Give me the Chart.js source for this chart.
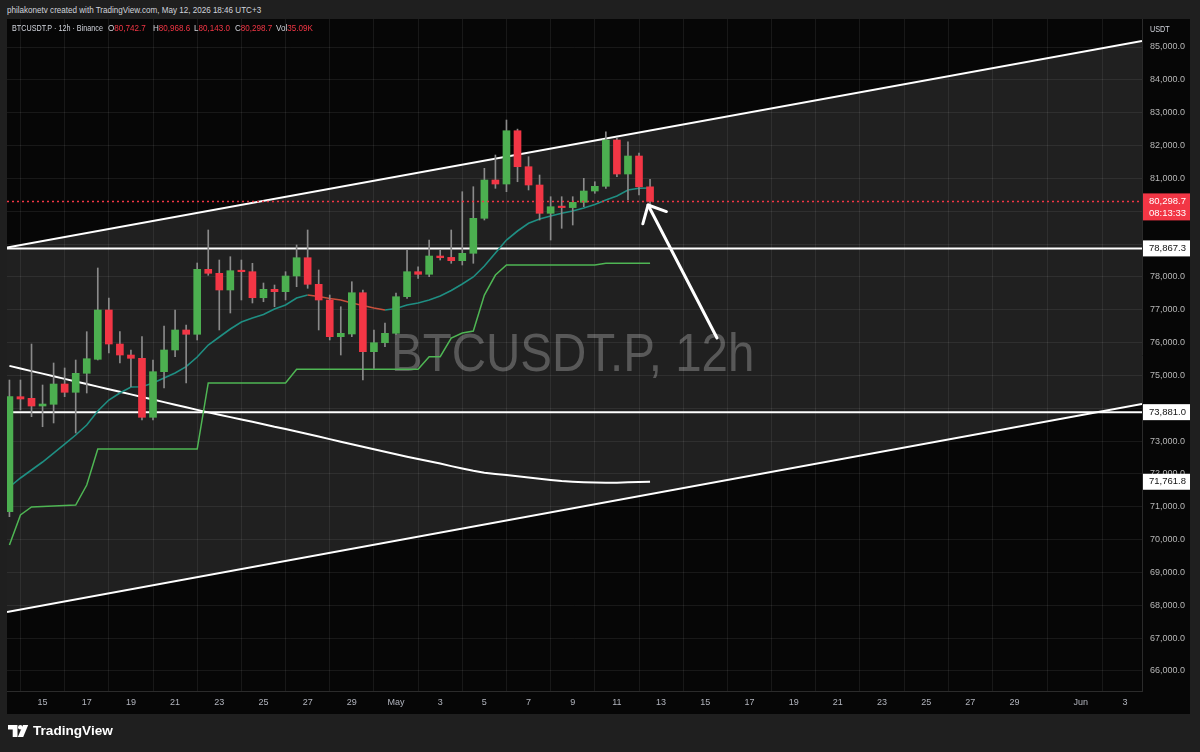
<!DOCTYPE html>
<html><head><meta charset="utf-8">
<script src="https://cdn.jsdelivr.net/npm/chart.js@4.4.1/dist/chart.umd.min.js"></script>
<style>
html,body{margin:0;padding:0;background:#1f1f1f;width:1200px;height:752px;overflow:hidden;font-family:'Liberation Sans',Arial,sans-serif;}
#panel{position:absolute;left:7px;top:19px;width:1183px;height:695px;background:#060606;overflow:hidden;}
#wm{position:absolute;left:384px;top:312px;font-size:47.5px;line-height:47px;color:#454545;white-space:nowrap;transform:scaleY(1.13);transform-origin:0 41px;}
#c{position:absolute;left:0;top:0;}
.t{position:absolute;white-space:nowrap;font-size:9.5px;line-height:10px;color:#d1d4dc;transform:scaleX(0.85);transform-origin:0 50%;}
.r{color:#f23645;}
#foot{position:absolute;left:33px;top:723px;font-size:13.6px;line-height:16px;font-weight:bold;color:#ffffff;}
</style></head><body>
<div class="t" style="left:7px;top:5px;">philakonetv created with TradingView.com, May 12, 2026 18:46 UTC+3</div>
<div id="panel">
  <div id="wm">BTCUSDT.P, 12h</div>
  <canvas id="c" width="1183" height="695"></canvas>
</div>
<div class="t" style="left:12px;top:23px;transform:scaleX(0.76);">BTCUSDT.P · 12h · Binance</div>
<div class="t" style="left:108px;top:23px;">O<span class="r">80,742.7</span></div>
<div class="t" style="left:153px;top:23px;">H<span class="r">80,968.6</span></div>
<div class="t" style="left:194px;top:23px;">L<span class="r">80,143.0</span></div>
<div class="t" style="left:235px;top:23px;">C<span class="r">80,298.7</span></div>
<div class="t" style="left:276px;top:23px;">Vol<span class="r">35.09K</span></div>
<div class="t" style="left:1150px;top:24px;font-size:8.5px;">USDT</div>
<svg style="position:absolute;left:0;top:0" width="40" height="752">
  <path d="M8 725 h9.5 v12 h-4.8 v-7.6 h-4.7 z" fill="#fff"/>
  <circle cx="20.3" cy="727.3" r="2.3" fill="#fff"/>
  <path d="M23 725 h5.2 l-5 12 h-5.4 z" fill="#fff"/>
</svg>
<div id="foot">TradingView</div>
<script>
// ---- categories: 12h candle open times (UTC) ----
const candleTimes = [
 '2026-04-13T12','2026-04-14T00','2026-04-14T12','2026-04-15T00','2026-04-15T12','2026-04-16T00','2026-04-16T12','2026-04-17T00','2026-04-17T12','2026-04-18T00',
 '2026-04-18T12','2026-04-19T00','2026-04-19T12','2026-04-20T00','2026-04-20T12','2026-04-21T00','2026-04-21T12','2026-04-22T00','2026-04-22T12','2026-04-23T00',
 '2026-04-23T12','2026-04-24T00','2026-04-24T12','2026-04-25T00','2026-04-25T12','2026-04-26T00','2026-04-26T12','2026-04-27T00','2026-04-27T12','2026-04-28T00',
 '2026-04-28T12','2026-04-29T00','2026-04-29T12','2026-04-30T00','2026-04-30T12','2026-05-01T00','2026-05-01T12','2026-05-02T00','2026-05-02T12','2026-05-03T00',
 '2026-05-03T12','2026-05-04T00','2026-05-04T12','2026-05-05T00','2026-05-05T12','2026-05-06T00','2026-05-06T12','2026-05-07T00','2026-05-07T12','2026-05-08T00',
 '2026-05-08T12','2026-05-09T00','2026-05-09T12','2026-05-10T00','2026-05-10T12','2026-05-11T00','2026-05-11T12','2026-05-12T00','2026-05-12T12'];

// ---- series values ----
const openP = [
 70850,74352,74303,74068,74120,74738,74486,75064,75490,76992,
 75956,75621,75521,73724,75113,75774,76383,76252,78231,78109,
 77601,78188,78158,77366,77622,77549,78027,78584,77774,77296,
 76179,76261,77518,75722,75996,76282,77397,78158,78079,78636,
 78594,78493,78718,79784,80950,80828,82451,81355,80798,79936,
 80137,80110,80271,80615,80758,82168,81133,81681,80742.7];
const highP = [
 74860,74860,75956,74708,75378,75226,75469,76331,78271,77357,
 76331,75774,76179,75469,76504,76992,76535,78423,79428,78514,
 78615,78514,78414,77814,77753,78158,78971,79428,78210,77448,
 77092,77853,77601,76383,76596,77509,78819,78310,79123,78819,
 79428,80594,80746,81306,81711,82777,82500,81660,81102,80442,
 80442,80442,81002,80898,82421,82229,82116,81772,80968.6];
const lowP = [
 70698,73947,73743,73438,73551,74352,73246,74464,75469,75682,
 75378,74656,73642,73642,74617,75570,74769,76078,78048,76383,
 76900,77296,77205,77244,77092,77296,77701,77652,76383,76078,
 75621,76179,74860,75216,75874,76250,77348,77957,78006,78514,
 78414,78362,78414,79732,80697,80594,80898,80646,79732,79123,
 79479,79580,80137,80545,80697,81051,80341,80493,80143.0];
const closeP = [
 74352,74282,74068,74129,74738,74486,75064,75509,76992,75956,
 75621,75521,73724,75113,75774,76383,76252,78231,78109,77601,
 78188,78158,77366,77622,77549,78027,78584,77774,77296,76179,
 76282,77518,75722,75996,76282,77397,78158,78079,78636,78584,
 78493,78718,79784,80950,80828,82451,81355,80798,79936,80137,
 80110,80271,80615,80758,82168,81133,81681,80742.7,80298.7];
// fast moving average (teal, red while falling)
const emaFast = [
 71602,71876,72120,72363,72637,72911,73185,73490,73916,74251,
 74464,74647,74655,74769,74921,75073,75265,75560,75926,76169,
 76413,76626,76748,76855,77022,77144,77357,77448,77403,77342,
 77296,77205,77129,77053,76992,77037,77144,77205,77296,77418,
 77585,77783,77997,78331,78727,79123,79397,79632,79763,79854,
 79936,80006,80097,80204,80341,80463,80646,80697,80705];
// slow moving average (white)
const maSlow = [
 75290,75210,75131,75055,74973,74894,74815,74738,74659,74580,
 74501,74422,74342,74266,74187,74108,74029,73950,73874,73804,
 73730,73657,73587,73514,73435,73365,73292,73213,73137,73060,
 72981,72905,72829,72750,72674,72598,72525,72455,72385,72315,
 72238,72168,72095,72037,72001,71964,71928,71891,71855,71818,
 71782,71764,71749,71737,71731,71734,71743,71755,71761.8];
// stepped baseline (green)
const baseLine = [
 69836,70749,70993,71008,71024,71040,71054,71663,72759,72759,
 72759,72759,72759,72759,72759,72759,72759,72759,74769,74769,
 74769,74769,74769,74769,74769,74769,75186,75186,75186,75186,
 75186,75186,75186,75186,75186,75186,75186,75186,75570,75570,
 76139,76291,76352,77448,78057,78362,78362,78362,78362,78362,
 78362,78362,78362,78362,78414,78414,78414,78414,78414];

// drawings (prices at left / right edge of the view)
const channelUpper = [78895, 85183];
const channelLower = [67796, 74129];
const hLevels = [78867.3, 73881.0];
const lastPrice = 80298.7;
const countdown = '08:13:33';
const arrowTail = [32.53, 76139];   // [day, price]
const arrowHead = [29.41, 80189];

// ---- tick labels ----
const xTickDays = [2,4,6,8,10,12,14,16,18,20,22,24,26,28,30,32,34,36,38,40,42,44,46,49,51];
const xTickLabels = ['15','17','19','21','23','25','27','29','May','3','5','7','9','11','13','15','17','19','21','23','25','27','29','Jun','3'];
const yTicks = [66000,67000,68000,69000,70000,71000,72000,73000,74000,75000,76000,77000,78000,79000,80000,81000,82000,83000,84000,85000];

// ---- view ----
const X_MIN = 0.39, X_MAX = 51.77, Y_MIN = 65390, Y_MAX = 85853;
const UP = '#4caf50', DOWN = '#f23645';
const T0 = Date.parse('2026-04-13T00:00:00Z');
const days = candleTimes.map(s => (Date.parse(s + ':00:00Z') - T0) / 864e5);
const fmt = v => v.toLocaleString('en-US', {minimumFractionDigits:1, maximumFractionDigits:1});
const candleCol = openP.map((o,i) => closeP[i] >= o ? UP : DOWN);

Chart.defaults.font.family = "'Liberation Sans', Arial, sans-serif";

const lineDs = (data, color, width, order, extra) => Object.assign({
  type:'line', data, borderColor:color, borderWidth:width, pointRadius:0, tension:0, fill:false, order
}, extra || {});
const series = arr => days.map((d,i) => ({x:d, y:arr[i]}));
const span = (a,b) => [{x:X_MIN, y:a}, {x:X_MAX, y:b}];

const overlay = {
  id:'overlay',
  afterDatasetsDraw(chart){
    const {ctx, chartArea:a, scales:{x,y}} = chart;
    ctx.save();
    ctx.beginPath(); ctx.rect(a.left, a.top, a.right-a.left, a.bottom-a.top); ctx.clip();
    const sx = x.getPixelForValue(arrowTail[0]), sy = y.getPixelForValue(arrowTail[1]);
    const tx = x.getPixelForValue(arrowHead[0]), ty = y.getPixelForValue(arrowHead[1]);
    const ang = Math.atan2(sy-ty, sx-tx), L = 19.5, spread = 0.75;
    ctx.strokeStyle = '#ffffff'; ctx.lineWidth = 3; ctx.lineCap = 'round'; ctx.lineJoin = 'round';
    ctx.beginPath(); ctx.moveTo(sx, sy); ctx.lineTo(tx, ty); ctx.stroke();
    ctx.beginPath();
    ctx.moveTo(tx + L*Math.cos(ang+spread), ty + L*Math.sin(ang+spread));
    ctx.lineTo(tx, ty);
    ctx.lineTo(tx + L*Math.cos(ang-spread), ty + L*Math.sin(ang-spread));
    ctx.stroke();
    ctx.restore();
  },
  afterDraw(chart){
    const {ctx, chartArea:a, scales:{y}} = chart;
    const tags = [
      {v:lastPrice, lines:[fmt(lastPrice), countdown], bg:DOWN, fg:'#ffffff'},
      {v:hLevels[0], lines:[fmt(hLevels[0])], bg:'#ffffff', fg:'#131313'},
      {v:hLevels[1], lines:[fmt(hLevels[1])], bg:'#ffffff', fg:'#131313'},
      {v:maSlow[maSlow.length-1], lines:[fmt(maSlow[maSlow.length-1])], bg:'#ffffff', fg:'#131313'}
    ];
    ctx.save();
    ctx.font = "9.5px 'Liberation Sans', Arial, sans-serif";
    ctx.textBaseline = 'middle'; ctx.textAlign = 'left';
    tags.forEach(t => {
      const py = y.getPixelForValue(t.v);
      const h = 16 + (t.lines.length-1)*11;
      ctx.fillStyle = t.bg;
      ctx.fillRect(a.right+1, py-8, 47, h);
      ctx.fillStyle = t.fg;
      t.lines.forEach((s,k) => ctx.fillText(s, a.right+7, py + k*11.5));
    });
    ctx.restore();
  }
};

new Chart(document.getElementById('c'), {
  type:'bar',
  data:{ datasets:[
    lineDs(span(channelUpper[0], channelUpper[1]), '#ffffff', 2, 20),
    lineDs(span(channelLower[0], channelLower[1]), '#ffffff', 2, 19, {fill:'-1', backgroundColor:'rgba(255,255,255,0.105)'}),
    lineDs(span(hLevels[0], hLevels[0]), '#ffffff', 2, 18),
    lineDs(span(hLevels[1], hLevels[1]), '#ffffff', 2, 17),
    lineDs(series(maSlow), '#ffffff', 2, 16),
    lineDs(series(baseLine), '#4fb654', 1.5, 15),
    lineDs(series(emaFast), '#1f8f83', 1.6, 14, {segment:{borderColor: c => c.p1.parsed.y < c.p0.parsed.y ? '#c8503c' : '#1f8f83'}}),
    { type:'bar', data: days.map((d,i)=>({x:d, y:[lowP[i], highP[i]]})), backgroundColor:'#8a8a8a',
      barThickness:1, grouped:false, order:6, borderWidth:0 },
    { type:'bar', data: days.map((d,i)=>({x:d, y:[openP[i], closeP[i]]})), backgroundColor:candleCol,
      barThickness:7, minBarLength:1.5, grouped:false, order:5, borderWidth:0 },
    lineDs(span(lastPrice, lastPrice), DOWN, 1.5, 2, {borderDash:[2,3]})
  ]},
  options:{
    responsive:false, animation:false, events:[],
    layout:{padding:0},
    plugins:{legend:{display:false}, tooltip:{enabled:false}, title:{display:false}},
    scales:{
      x:{ type:'linear', min:X_MIN, max:X_MAX, offset:false,
          afterBuildTicks: s => { s.ticks = xTickDays.map(v => ({value:v})); },
          ticks:{ autoSkip:false, maxRotation:0, color:'#b2b5be', font:{size:9}, padding:6,
                  callback:(v,i) => xTickLabels[i] },
          grid:{ color:'rgba(255,255,255,0.075)', drawTicks:false },
          border:{ color:'#2b2b2b' },
          afterFit: s => { s.height = 23; s.paddingLeft = 0; s.paddingRight = 0; } },
      y:{ type:'linear', position:'right', min:Y_MIN, max:Y_MAX,
          afterBuildTicks: s => { s.ticks = yTicks.map(v => ({value:v})); },
          ticks:{ color:'#b7b7b7', font:{size:9}, padding:8, callback: v => fmt(v) },
          grid:{ color:'rgba(255,255,255,0.075)', drawTicks:false },
          border:{ color:'#2b2b2b' },
          afterFit: s => { s.width = 48; s.paddingTop = 0; s.paddingBottom = 0; } }
    }
  },
  plugins:[overlay]
});
</script>
</body></html>
